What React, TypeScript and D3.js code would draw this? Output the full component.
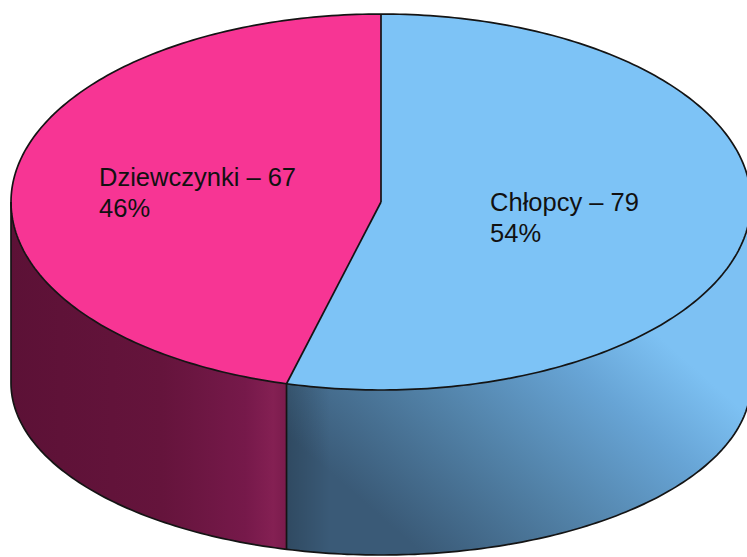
import React, { useEffect, useRef } from "react";
import * as d3 from "d3";

const categories = ["Chłopcy", "Dziewczynki"];
const values = [79, 67];
const percentLabels = ["54%", "46%"];
const topColors = ["#7dc3f6", "#f73594"];
const sideGradients = ["sideBlue", "sidePink"];

const W = 747;
const H = 557;

const App = () => {
  const ref = useRef<SVGSVGElement>(null);

  useEffect(() => {
    const svg = d3.select(ref.current);
    svg.selectAll("*").remove();

    // ellipse geometry of the top face and of the bottom rim
    const cx = 381, cy = 202, rx = 370, ry = 188;
    const cyB = 383, ryB = 172;
    const top = (a: number): [number, number] => [cx + rx * Math.sin(a), cy - ry * Math.cos(a)];
    const bot = (a: number): [number, number] => [cx + rx * Math.sin(a), cyB - ryB * Math.cos(a)];
    const sample = (a0: number, a1: number) => {
      const n = Math.max(2, Math.ceil(Math.abs(a1 - a0) * 60));
      return d3.range(n + 1).map(i => a0 + (a1 - a0) * i / n);
    };
    const line = d3.line();

    const pie = d3.pie<number>().sort(null).value(d => d);
    const arcs = pie(values);

    const defs = svg.append("defs");
    const pinkG = defs.append("linearGradient").attr("id", "sidePink")
      .attr("gradientUnits", "userSpaceOnUse")
      .attr("x1", 10).attr("y1", 0).attr("x2", 287).attr("y2", 0);
    [[0, "#5c1136"], [0.55, "#65143c"], [0.85, "#76194a"], [0.95, "#842053"], [1, "#7a1b4c"]]
      .forEach(([o, c]) => pinkG.append("stop").attr("offset", o as number).attr("stop-color", c as string));

    const blueG = defs.append("linearGradient").attr("id", "sideBlue")
      .attr("gradientUnits", "userSpaceOnUse")
      .attr("x1", 430).attr("y1", 560).attr("x2", 640).attr("y2", 320);
    [[0, "#3a5a77"], [0.4, "#5282a8"], [0.75, "#67a4d5"], [1, "#7dc1f3"]]
      .forEach(([o, c]) => blueG.append("stop").attr("offset", o as number).attr("stop-color", c as string));

    const edgeG = defs.append("linearGradient").attr("id", "edgeShade")
      .attr("gradientUnits", "userSpaceOnUse")
      .attr("x1", 287).attr("y1", 0).attr("x2", 330).attr("y2", 0);
    edgeG.append("stop").attr("offset", 0).attr("stop-color", "#000").attr("stop-opacity", 0.18);
    edgeG.append("stop").attr("offset", 1).attr("stop-color", "#000").attr("stop-opacity", 0);

    // side walls (front half only)
    arcs.forEach((d, i) => {
      const a0 = Math.max(d.startAngle, Math.PI / 2);
      const a1 = Math.min(d.endAngle, 3 * Math.PI / 2);
      if (a1 <= a0) return;
      const pts = [...sample(a0, a1).map(top), ...sample(a1, a0).map(bot)];
      const path = line(pts) + "Z";
      svg.append("path").attr("d", path).attr("fill", `url(#${sideGradients[i]})`);
      if (i === 0) svg.append("path").attr("d", path).attr("fill", "url(#edgeShade)");
    });

    // top faces
    arcs.forEach((d, i) => {
      const pts = [[cx, cy] as [number, number], ...sample(d.startAngle, d.endAngle).map(top)];
      svg.append("path").attr("d", line(pts) + "Z").attr("fill", topColors[i]);
    });

    const stroke = { color: "#141414", width: 1.7 };
    const outline = (pts: [number, number][], closed = false) =>
      svg.append("path").attr("d", line(pts) + (closed ? "Z" : ""))
        .attr("fill", "none").attr("stroke", stroke.color).attr("stroke-width", stroke.width)
        .attr("stroke-linejoin", "round");

    outline(sample(0, 2 * Math.PI).map(top), true);
    outline(sample(Math.PI / 2, 3 * Math.PI / 2).map(bot));
    outline([top(3 * Math.PI / 2), bot(3 * Math.PI / 2)]);
    arcs.forEach(d => {
      outline([[cx, cy], top(d.startAngle)]);
      const a = d.startAngle;
      if (a > Math.PI / 2 && a < 3 * Math.PI / 2) outline([top(a), bot(a)]);
    });

    // labels, left aligned block centred on the slice centroid
    arcs.forEach((d, i) => {
      const mid = (d.startAngle + d.endAngle) / 2;
      const [mx, my] = [cx + rx * 0.5 * Math.sin(mid), cy + 3 - ry * 0.5 * Math.cos(mid)];
      const g = svg.append("g");
      const t = g.append("text")
        .attr("font-family", "Liberation Sans, Arial, sans-serif")
        .attr("font-size", 25.5).attr("fill", "#111");
      t.append("tspan").attr("x", 0).attr("y", 0).text(`${categories[i]} – ${values[i]}`);
      t.append("tspan").attr("x", 0).attr("y", 31).text(percentLabels[i]);
      const bb = (t.node() as SVGTextElement).getBBox();
      g.attr("transform", `translate(${mx - bb.width / 2 - bb.x},${my - bb.height / 2 - bb.y})`);
    });
  }, []);

  return (
    <svg ref={ref} width={W} height={H}
      style={{ position: "absolute", left: 0, top: 0, background: "#fff" }} />
  );
};

export default App;
